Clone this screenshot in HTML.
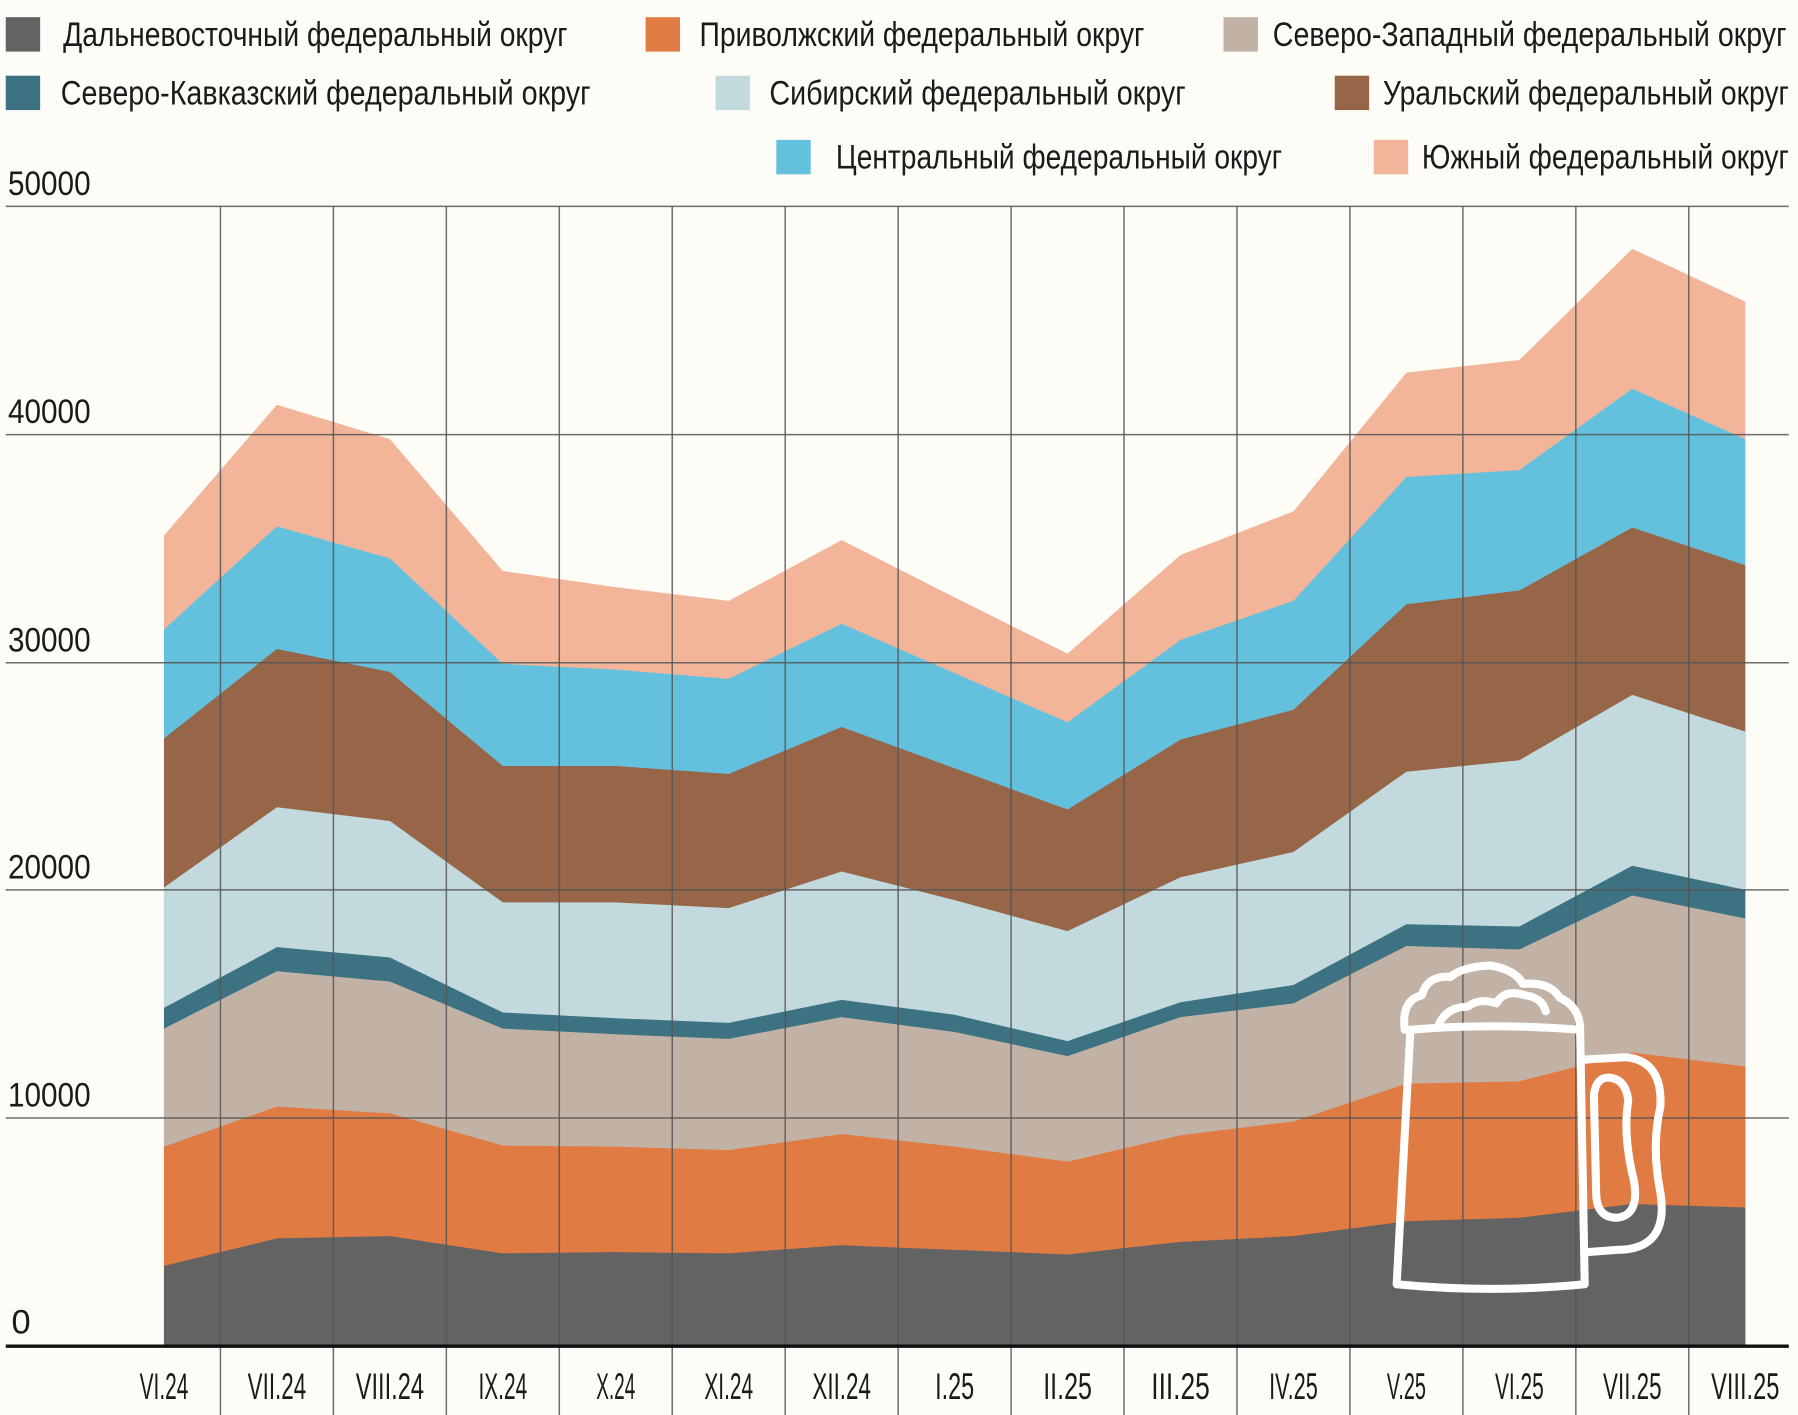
<!DOCTYPE html>
<html><head><meta charset="utf-8"><style>
html,body{margin:0;padding:0;background:#fefcf7;}
svg{display:block;}
text{font-family:"Liberation Sans Narrow","Liberation Sans",sans-serif;fill:#1a1a1a;}
</style></head><body>
<svg width="1798" height="1415" viewBox="0 0 1568 1234" xmlns="http://www.w3.org/2000/svg">
<rect width="1568" height="1234" fill="#fefcf7"/>
<g id="areas"></g>
<g stroke="#555" stroke-width="1.3" opacity="0.85">
<line x1="5" y1="180" x2="1560" y2="180"/>
<line x1="5" y1="379" x2="1560" y2="379"/>
<line x1="5" y1="578" x2="1560" y2="578"/>
<line x1="5" y1="776" x2="1560" y2="776"/>
<line x1="5" y1="975" x2="1560" y2="975"/>
</g>
<g id="vg" stroke="#555" stroke-width="1.3" opacity="0.85"></g>
<line x1="5" y1="1174" x2="1560" y2="1174" stroke="#111" stroke-width="3"/>
<g fill="none" stroke="#fff" stroke-width="7" stroke-linejoin="round" stroke-linecap="round">
<path d="M1230 898 Q1300 892 1378 898 L1382 1120 Q1300 1128 1218 1120 Z"/>
<path d="M1382 924 L1418 922 Q1450 925 1448 965 Q1440 1000 1448 1040 Q1456 1090 1410 1090 L1384 1092"/>
<path d="M1390 955 Q1392 938 1405 940 Q1418 942 1420 960 Q1415 990 1425 1030 Q1430 1060 1410 1062 Q1392 1062 1392 1040 Z"/>
<path d="M1225 898 Q1222 872 1240 868 Q1245 850 1265 852 Q1275 843 1300 842 Q1322 846 1328 858 Q1352 856 1360 870 Q1378 878 1378 898"/>
<path d="M1255 893 Q1262 878 1280 878 Q1290 870 1305 875 Q1312 862 1330 868 Q1345 870 1348 882"/>
</g>
<g font-size="30">
<rect x="5" y="15" width="30" height="30" fill="#636363"/><text x="55" y="40" textLength="440" lengthAdjust="spacingAndGlyphs">Дальневосточный федеральный округ</text>
<rect x="563" y="15" width="30" height="30" fill="#e07b43"/><text x="610" y="40" textLength="388" lengthAdjust="spacingAndGlyphs">Приволжский федеральный округ</text>
<rect x="1067" y="15" width="30" height="30" fill="#c2b2a5"/><text x="1110" y="40" textLength="448" lengthAdjust="spacingAndGlyphs">Северо-Западный федеральный округ</text>
<rect x="5" y="66" width="30" height="30" fill="#3d7283"/><text x="53" y="91" textLength="462" lengthAdjust="spacingAndGlyphs">Северо-Кавказский федеральный округ</text>
<rect x="624" y="66" width="30" height="30" fill="#c2dade"/><text x="671" y="91" textLength="363" lengthAdjust="spacingAndGlyphs">Сибирский федеральный округ</text>
<rect x="1164" y="66" width="30" height="30" fill="#976548"/><text x="1206" y="91" textLength="354" lengthAdjust="spacingAndGlyphs">Уральский федеральный округ</text>
<rect x="677" y="122" width="30" height="30" fill="#64c1de"/><text x="729" y="147" textLength="389" lengthAdjust="spacingAndGlyphs">Центральный федеральный округ</text>
<rect x="1198" y="122" width="30" height="30" fill="#f3b59a"/><text x="1240" y="147" textLength="320" lengthAdjust="spacingAndGlyphs">Южный федеральный округ</text>
</g>
<g font-size="30">
<text x="7" y="170" textLength="72" lengthAdjust="spacingAndGlyphs">50000</text>
<text x="7" y="369" textLength="72" lengthAdjust="spacingAndGlyphs">40000</text>
<text x="7" y="568" textLength="72" lengthAdjust="spacingAndGlyphs">30000</text>
<text x="7" y="766" textLength="72" lengthAdjust="spacingAndGlyphs">20000</text>
<text x="7" y="965" textLength="72" lengthAdjust="spacingAndGlyphs">10000</text>
<text x="10" y="1163">0</text>
</g>
<g id="xl" font-size="32" text-anchor="middle"></g>
<script>
var ns="http://www.w3.org/2000/svg";
function X(i){return 143+98.5*i;}
var L=[
[1104,1080,1078,1093,1092,1093,1086,1090,1094,1083,1078,1065,1062,1050,1053],
[1000,965,971,999,1000,1003,989,1000,1013,990,978,945,943,918,930],
[897,847,856,897,902,906,887,900,921,887,875,825,828,781,801],
[879,826,835,883,888,892,872,885,908,874,859,806,808,755,776],
[774,704,716,787,787,792,760,785,812,765,743,673,663,606,638],
[644,566,586,668,668,675,634,670,706,645,619,527,515,460,493],
[549,459,487,579,584,592,544,587,630,558,524,416,410,339,383],
[467,353,383,498,512,524,471,521,570,484,446,325,314,217,263]];
var C=["#636363","#e07b43","#c2b2a5","#3d7283","#c2dade","#976548","#64c1de","#f3b59a"];
var g=document.getElementById("areas");
for(var k=L.length-1;k>=0;k--){
 var d="M"+X(0)+" 1174";
 for(var i=0;i<15;i++)d+=" L"+X(i)+" "+L[k][i];
 d+=" L"+X(14)+" 1174 Z";
 var p=document.createElementNS(ns,"path");p.setAttribute("d",d);p.setAttribute("fill",C[k]);g.appendChild(p);
}
var vg=document.getElementById("vg");
for(var i=0;i<14;i++){var l=document.createElementNS(ns,"line");var x=X(i+0.5);
l.setAttribute("x1",x);l.setAttribute("x2",x);l.setAttribute("y1",180);l.setAttribute("y2",1234);vg.appendChild(l);}
var lab=["VI.24","VII.24","VIII.24","IX.24","X.24","XI.24","XII.24","I.25","II.25","III.25","IV.25","V.25","VI.25","VII.25","VIII.25"];
var xl=document.getElementById("xl");
for(var i=0;i<15;i++){var t=document.createElementNS(ns,"text");t.setAttribute("x",X(i));t.setAttribute("y",1220);
t.setAttribute("textLength",lab[i].length*8.5);t.setAttribute("lengthAdjust","spacingAndGlyphs");t.textContent=lab[i];xl.appendChild(t);}
</script>
</svg>
</body></html>
